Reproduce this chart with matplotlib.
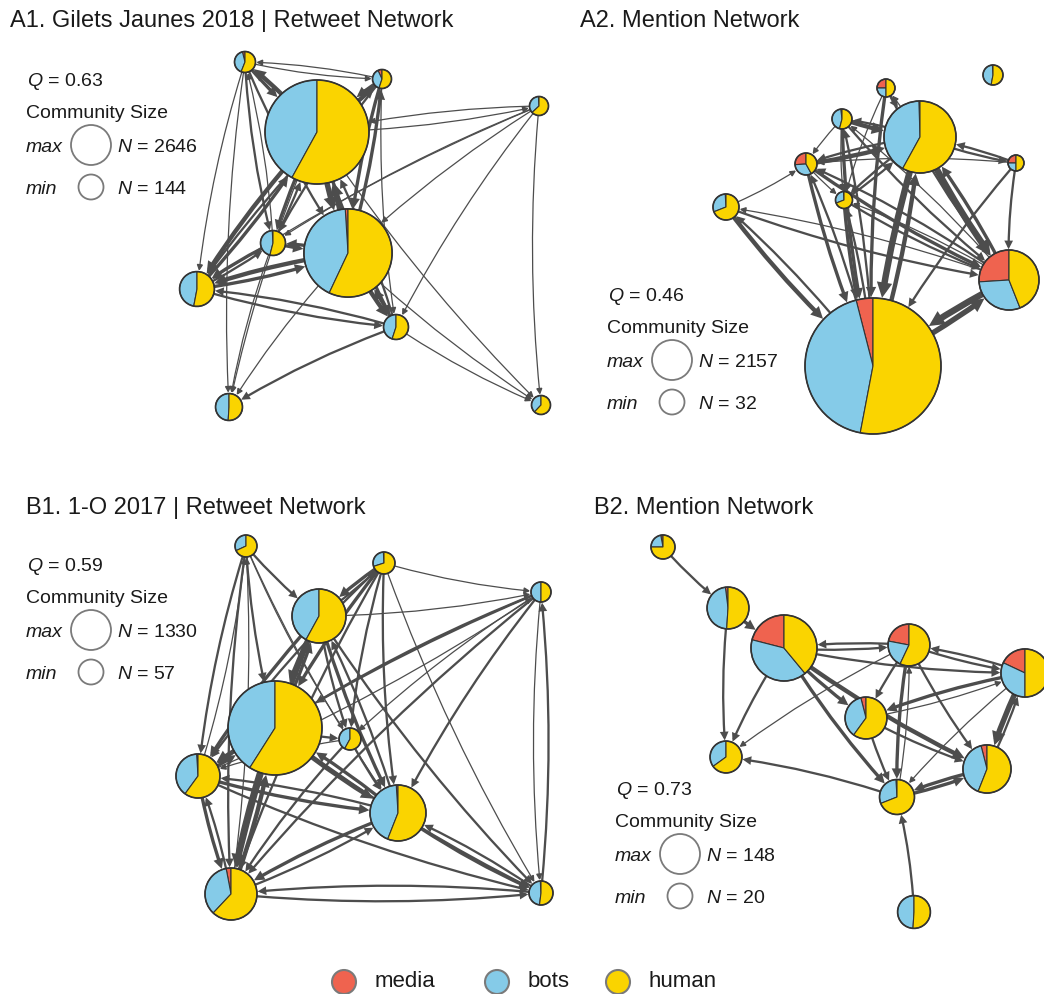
import matplotlib
matplotlib.use("Agg")
import matplotlib.pyplot as plt
from matplotlib.patches import Wedge, Circle, FancyArrowPatch, ArrowStyle

plt.rcParams["font.family"] = ["Liberation Sans", "DejaVu Sans"]
plt.rcParams["mathtext.fontset"] = "custom"
plt.rcParams["mathtext.rm"] = "Liberation Sans"
plt.rcParams["mathtext.it"] = "Liberation Sans:italic"

W, H = 1044, 994
COLORS = ["#EF634F", "#85CBE8", "#FAD400"]   # media, bots, human
CLASS_NAMES = ["media", "bots", "human"]
EDGE_COLOR = "#4D4D4D"
OUTLINE = "#333333"
KEY_GREY = "#7A7A7A"

# ---------------- A1: Gilets Jaunes 2018, retweet network ----------------
a1_title = "A1. Gilets Jaunes 2018 | Retweet Network"
a1_q = 0.63
a1_n_max, a1_n_min = 2646, 144
a1_x = [245, 382, 317, 539, 273, 348, 197, 396, 229, 541]
a1_y = [62, 79, 132, 106, 243, 253, 289, 327, 407, 405]
a1_size = [167, 144, 2646, 144, 218, 1946, 374, 218, 246, 144]
a1_media = [0.04, 0.07, 0.00, 0.01, 0.01, 0.01, 0.00, 0.00, 0.00, 0.00]
a1_bots = [0.40, 0.38, 0.42, 0.36, 0.45, 0.42, 0.47, 0.45, 0.49, 0.38]
a1_human = [0.56, 0.55, 0.58, 0.63, 0.54, 0.57, 0.53, 0.55, 0.51, 0.62]
a1_edges = [
    (0, 1, 1), (1, 0, 1), (0, 2, 3), (2, 0, 4), (0, 4, 2), (0, 5, 2), (0, 6, 1),
    (0, 8, 1), (4, 0, 1),
    (1, 2, 3), (2, 1, 4), (1, 5, 3), (5, 1, 3), (1, 4, 2), (1, 6, 2), (1, 7, 1),
    (2, 5, 5), (5, 2, 5), (2, 4, 3), (4, 2, 2), (2, 6, 4), (6, 2, 3), (2, 7, 3),
    (7, 2, 2), (2, 3, 1), (3, 2, 1), (2, 9, 1), (2, 8, 1),
    (3, 4, 1), (3, 5, 1), (3, 6, 1), (3, 7, 1), (3, 9, 1),
    (4, 5, 3), (5, 4, 3), (4, 6, 3), (6, 4, 2), (4, 8, 1),
    (5, 6, 4), (6, 5, 3), (5, 7, 4), (7, 5, 3), (5, 8, 1), (5, 9, 1),
    (6, 7, 2), (7, 6, 2), (7, 8, 2), (7, 9, 1),
]

# ---------------- A2: Gilets Jaunes 2018, mention network ----------------
a2_title = "A2. Mention Network"
a2_q = 0.46
a2_n_max, a2_n_min = 2157, 32
a2_x = [993, 886, 920, 842, 806, 1016, 844, 726, 1009, 873]
a2_y = [75, 88, 137, 119, 164, 163, 200, 207, 280, 366]
a2_size = [49, 40, 610, 49, 59, 32, 36, 82, 425, 2157]
a2_media = [0.01, 0.25, 0.005, 0.02, 0.26, 0.25, 0.01, 0.01, 0.26, 0.04]
a2_bots = [0.46, 0.25, 0.415, 0.44, 0.32, 0.25, 0.30, 0.30, 0.30, 0.43]
a2_human = [0.53, 0.50, 0.58, 0.54, 0.42, 0.50, 0.69, 0.69, 0.44, 0.53]
a2_edges = [
    (7, 4, 1), (7, 9, 4), (9, 7, 2), (7, 8, 2),
    (4, 2, 4), (2, 4, 2), (4, 9, 3), (9, 4, 2), (4, 8, 3), (8, 4, 2), (4, 6, 1),
    (3, 2, 4), (2, 3, 2), (3, 9, 3), (9, 3, 2), (3, 8, 2), (8, 3, 1), (3, 6, 1), (3, 4, 1),
    (1, 2, 2), (2, 1, 1), (1, 9, 3), (1, 8, 2), (1, 6, 1),
    (6, 2, 2), (2, 6, 2), (6, 9, 3), (9, 6, 2), (6, 8, 2), (8, 6, 1),
    (2, 9, 6), (9, 2, 4), (2, 8, 6), (8, 2, 3), (2, 5, 2), (5, 2, 2),
    (5, 8, 2), (5, 9, 2), (5, 4, 1),
    (8, 9, 6), (9, 8, 5), (8, 7, 1),
]

# ---------------- B1: 1-O 2017, retweet network ----------------
b1_title = "B1. 1-O 2017 | Retweet Network"
b1_q = 0.59
b1_n_max, b1_n_min = 1330, 57
b1_x = [246, 384, 319, 541, 275, 350, 198, 398, 231, 541]
b1_y = [546, 563, 616, 592, 728, 739, 776, 813, 894, 893]
b1_size = [69, 69, 434, 57, 1330, 69, 287, 467, 402, 83]
b1_media = [0.00, 0.01, 0.00, 0.00, 0.00, 0.00, 0.01, 0.01, 0.03, 0.01]
b1_bots = [0.32, 0.29, 0.42, 0.50, 0.41, 0.42, 0.39, 0.43, 0.35, 0.47]
b1_human = [0.68, 0.70, 0.58, 0.50, 0.59, 0.58, 0.60, 0.56, 0.62, 0.52]
b1_edges = [
    (0, 2, 2), (0, 4, 2), (0, 6, 2), (6, 0, 1), (0, 8, 2), (8, 0, 1), (0, 7, 1), (0, 5, 1),
    (1, 2, 3), (2, 1, 2), (1, 4, 3), (1, 6, 2), (1, 7, 2), (1, 8, 2), (1, 9, 1), (1, 5, 2),
    (1, 3, 1),
    (2, 4, 4), (4, 2, 3), (2, 6, 3), (2, 7, 3), (7, 2, 2), (2, 8, 4), (2, 3, 1), (2, 9, 2),
    (2, 5, 2),
    (3, 4, 2), (3, 6, 2), (3, 7, 2), (3, 8, 2), (3, 9, 1), (9, 3, 2), (3, 5, 1),
    (4, 5, 2), (4, 6, 4), (6, 4, 3), (4, 7, 4), (7, 4, 3), (4, 8, 5), (8, 4, 4), (4, 9, 2),
    (5, 7, 2), (5, 8, 2), (5, 6, 1),
    (6, 7, 3), (7, 6, 2), (6, 8, 3), (8, 6, 2), (6, 9, 2), (6, 3, 1),
    (7, 8, 3), (8, 7, 2), (7, 9, 3), (9, 7, 2),
    (8, 9, 2), (9, 8, 2),
]

# ---------------- B2: 1-O 2017, mention network ----------------
b2_title = "B2. Mention Network"
b2_q = 0.73
b2_n_max, b2_n_min = 148, 20
b2_x = [663, 728, 784, 909, 1025, 866, 726, 987, 897, 914]
b2_y = [547, 608, 648, 645, 673, 718, 757, 769, 797, 912]
b2_size = [20, 60, 148, 60, 79, 60, 35, 79, 42, 37]
b2_media = [0.03, 0.02, 0.21, 0.22, 0.18, 0.04, 0.00, 0.04, 0.01, 0.00]
b2_bots = [0.22, 0.47, 0.40, 0.21, 0.32, 0.36, 0.35, 0.40, 0.30, 0.49]
b2_human = [0.75, 0.51, 0.39, 0.57, 0.50, 0.60, 0.65, 0.56, 0.69, 0.51]
b2_edges = [
    (0, 1, 2), (1, 6, 2), (1, 2, 3), (2, 6, 2), (2, 3, 2), (3, 2, 2), (2, 4, 2), (2, 5, 3),
    (2, 7, 4), (2, 8, 3),
    (3, 4, 2), (4, 3, 2), (3, 5, 2), (3, 8, 3), (3, 7, 2), (3, 6, 1),
    (4, 5, 3), (4, 7, 5), (4, 8, 1), (7, 4, 2),
    (5, 7, 2), (5, 8, 2), (5, 4, 1),
    (7, 8, 3), (8, 7, 3), (8, 6, 2), (8, 3, 1), (9, 8, 2),
]

panels = [
    dict(title=a1_title, title_xy=(10, 27), q=a1_q, n_max=a1_n_max, n_min=a1_n_min,
         key_xy=(27, 86), r_range=(9.5, 52), x=a1_x, y=a1_y, size=a1_size,
         fracs=(a1_media, a1_bots, a1_human), edges=a1_edges),
    dict(title=a2_title, title_xy=(580, 27), q=a2_q, n_max=a2_n_max, n_min=a2_n_min,
         key_xy=(608, 301), r_range=(8, 68), x=a2_x, y=a2_y, size=a2_size,
         fracs=(a2_media, a2_bots, a2_human), edges=a2_edges),
    dict(title=b1_title, title_xy=(26, 514), q=b1_q, n_max=b1_n_max, n_min=b1_n_min,
         key_xy=(27, 571), r_range=(10, 47), x=b1_x, y=b1_y, size=b1_size,
         fracs=(b1_media, b1_bots, b1_human), edges=b1_edges),
    dict(title=b2_title, title_xy=(594, 514), q=b2_q, n_max=b2_n_max, n_min=b2_n_min,
         key_xy=(616, 795), r_range=(12, 33), x=b2_x, y=b2_y, size=b2_size,
         fracs=(b2_media, b2_bots, b2_human), edges=b2_edges),
]

fig = plt.figure(figsize=(W / 100, H / 100), dpi=100)
ax = fig.add_axes([0, 0, 1, 1])
ax.set_xlim(0, W)
ax.set_ylim(H, 0)
ax.set_aspect("equal")
ax.axis("off")

PX2PT = 72 / 100


def radius(n, n_min, n_max, r_range):
    """Node radius grows with the square root of community size."""
    lo, hi = r_range
    t = (n ** 0.5 - n_min ** 0.5) / (n_max ** 0.5 - n_min ** 0.5)
    return lo + (hi - lo) * t


def draw_pie(cx, cy, r, fr):
    total = sum(fr)
    start = 90.0
    for f, c in zip(fr, COLORS):
        if f <= 0:
            continue
        end = start + 360.0 * f / total
        # y axis points down, so screen angles are mirrored in data space
        ax.add_patch(Wedge((cx, cy), r, -end, -start, facecolor=c,
                           edgecolor=OUTLINE, lw=0.8, zorder=3))
        start = end
    ax.add_patch(Circle((cx, cy), r, fill=False, edgecolor=OUTLINE, lw=1.2, zorder=4))


def draw_edge(p, q, rp, rq, w):
    lw = 0.9 + 0.75 * (w - 1)
    style = ArrowStyle("-|>", head_length=0.6, head_width=0.3)
    ax.add_patch(FancyArrowPatch(p, q, arrowstyle=style, mutation_scale=6,
                                 connectionstyle="arc3,rad=0.05",
                                 shrinkA=rp * PX2PT, shrinkB=rq * PX2PT + 0.5,
                                 color=EDGE_COLOR, lw=lw, zorder=2,
                                 joinstyle="miter", capstyle="butt"))


for pnl in panels:
    tx, ty = pnl["title_xy"]
    ax.text(tx, ty, pnl["title"], fontsize=17, va="baseline", ha="left", color="#1a1a1a")

    rs = [radius(n, pnl["n_min"], pnl["n_max"], pnl["r_range"]) for n in pnl["size"]]
    xs, ys = pnl["x"], pnl["y"]
    for s, t, w in pnl["edges"]:
        draw_edge((xs[s], ys[s]), (xs[t], ys[t]), rs[s], rs[t], w)
    m, b, h = pnl["fracs"]
    for i in range(len(xs)):
        draw_pie(xs[i], ys[i], rs[i], (m[i], b[i], h[i]))

    # modularity and size key
    kx, ky = pnl["key_xy"]
    ax.text(kx, ky, "$\\mathit{Q}$ = %.2f" % pnl["q"], fontsize=14, va="baseline",
            ha="left", color="#1a1a1a")
    ax.text(kx - 1, ky + 32, "Community Size", fontsize=14, va="baseline", ha="left",
            color="#1a1a1a")
    for dy, lab, n, rr in [(66, "max", pnl["n_max"], 20), (108, "min", pnl["n_min"], 12.5)]:
        ax.text(kx - 1, ky + dy, lab, fontsize=14, style="italic", va="baseline",
                ha="left", color="#1a1a1a")
        ax.add_patch(Circle((kx + 64, ky + dy - 7), rr, fill=False, edgecolor=KEY_GREY,
                            lw=1.3, zorder=5))
        ax.text(kx + 90, ky + dy, "$\\mathit{N}$ = %d" % n, fontsize=14, va="baseline",
                ha="left", color="#1a1a1a")

# colour key along the bottom
key_x = [344, 497, 618]
for kx, c, name in zip(key_x, COLORS, CLASS_NAMES):
    ax.add_patch(Circle((kx, 982), 12, facecolor=c, edgecolor=KEY_GREY, lw=1.5, zorder=5))
    ax.text(kx + 31, 987, name, fontsize=16, va="baseline", ha="left", color="#1a1a1a")

fig.savefig("out.png", dpi=100, facecolor="white")
